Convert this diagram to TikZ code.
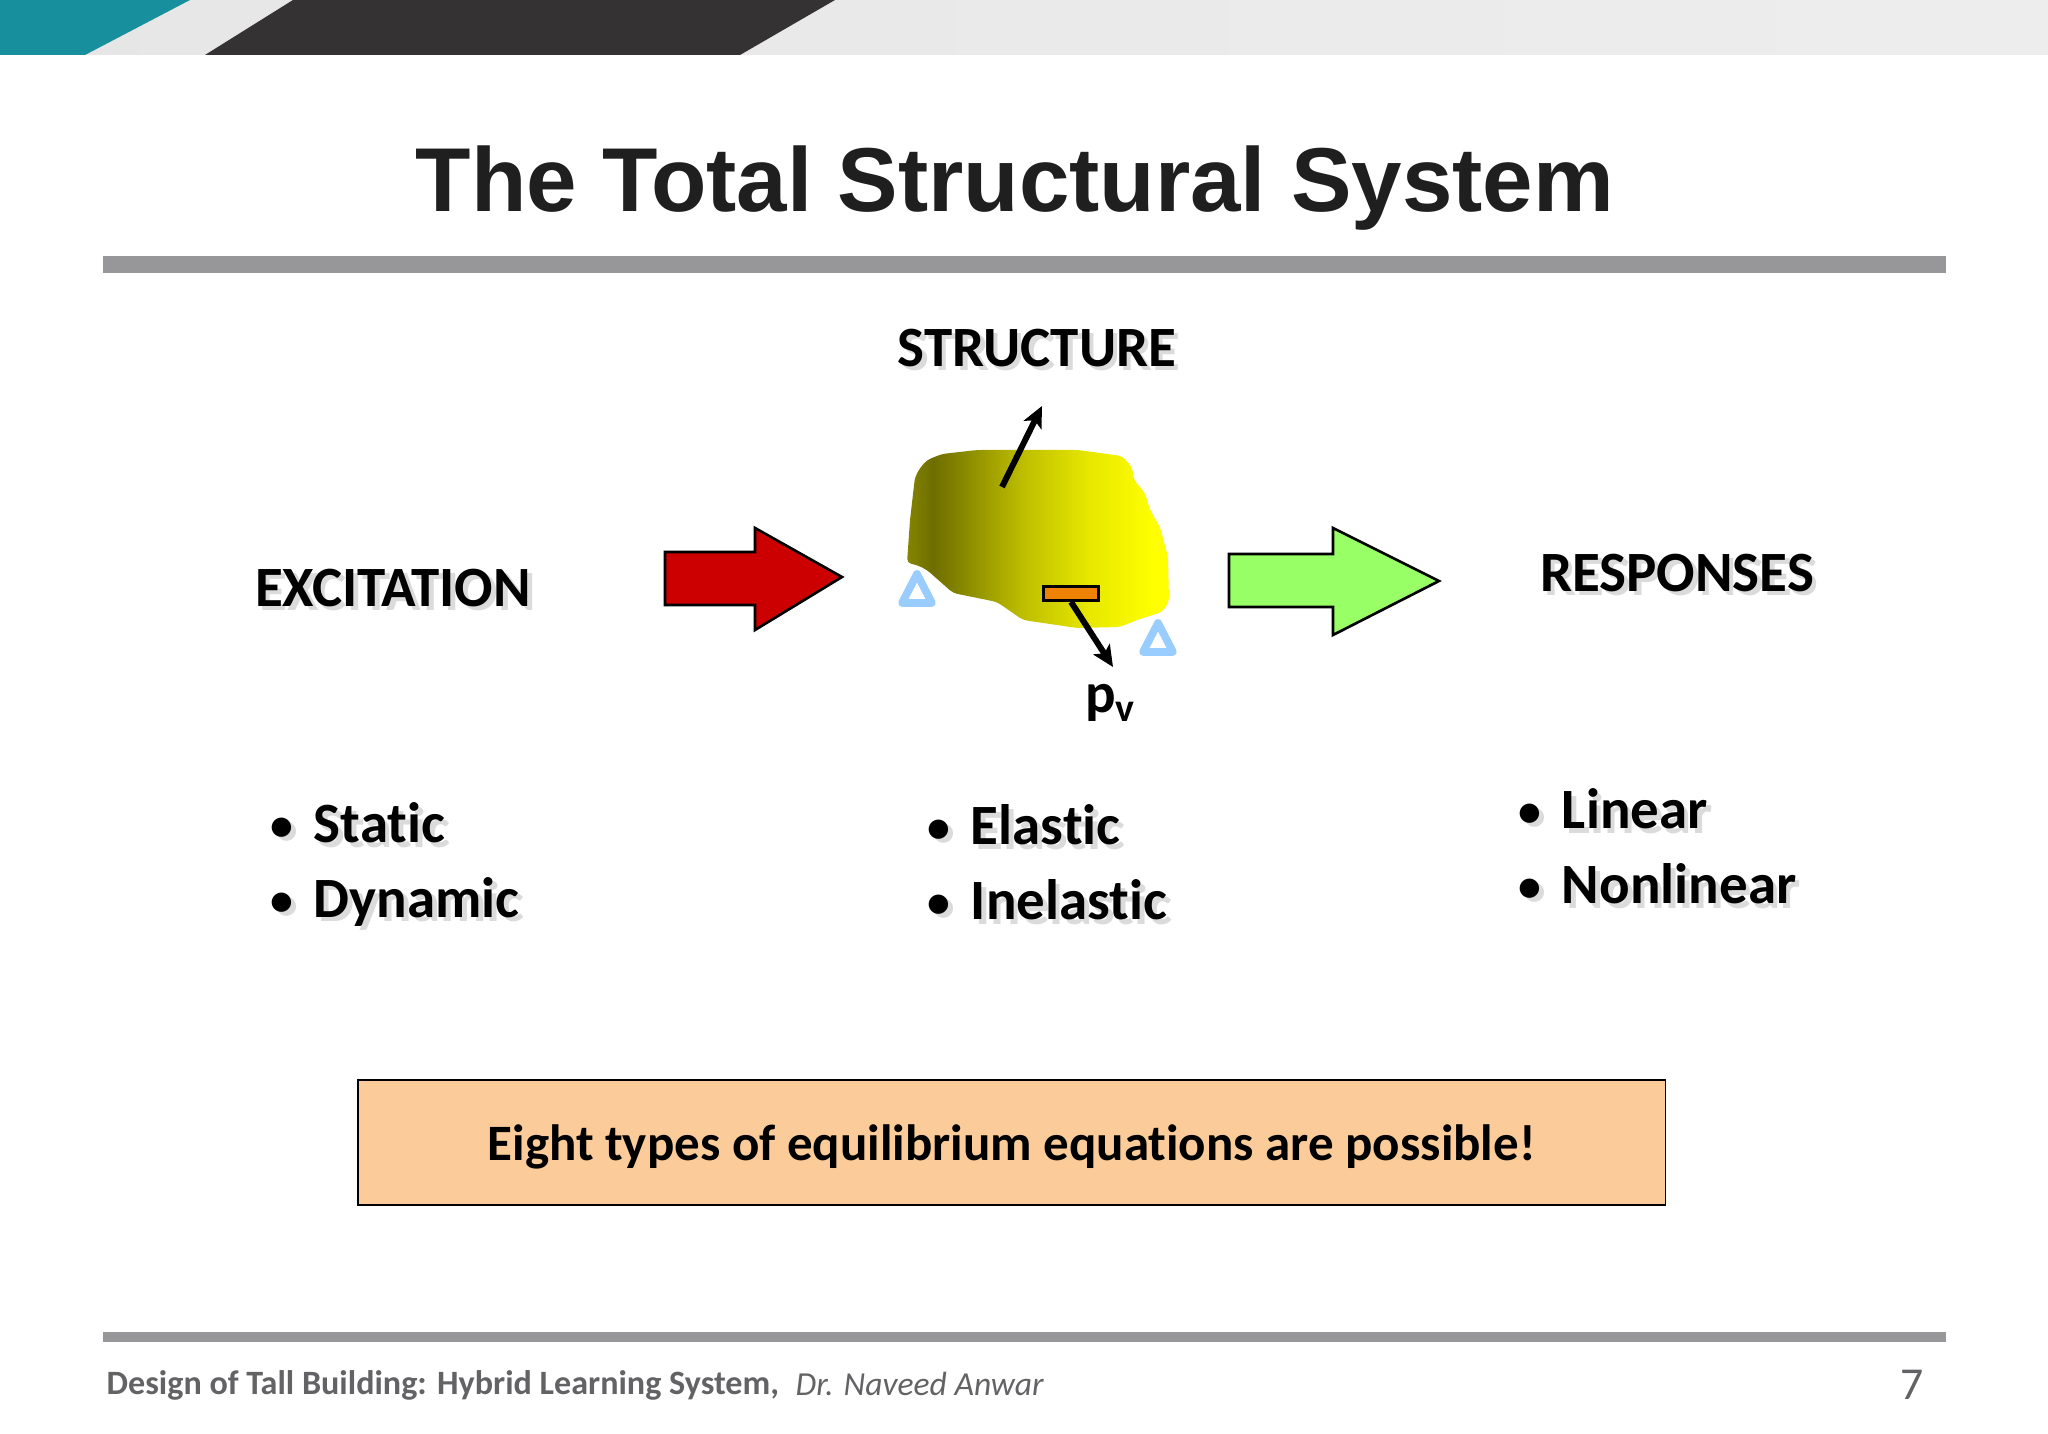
\documentclass[tikz,border=0pt]{standalone}
\usepackage{fontspec}
\setmainfont[Ligatures=NoCommon]{Carlito}
\newfontfamily\titlefont{Liberation Sans}
\usetikzlibrary{arrows.meta}
\definecolor{bandgray}{HTML}{E6E6E6}
\definecolor{bandteal}{HTML}{178F9C}
\definecolor{banddark}{HTML}{343232}
\definecolor{rulegray}{HTML}{979698}
\definecolor{footgray}{HTML}{636265}
\definecolor{supportblue}{HTML}{99CCFF}
\definecolor{boxorange}{HTML}{FBCC99}
\definecolor{plategold}{HTML}{EE8205}
\definecolor{arrowred}{HTML}{CC0000}
\definecolor{arrowgreen}{HTML}{99FF66}
\pgfdeclarehorizontalshading{blobshade}{100bp}{
  rgb(0bp)=(0.52,0.52,0);rgb(25bp)=(0.52,0.52,0);rgb(30bp)=(0.43,0.43,0);
  rgb(47.5bp)=(0.75,0.75,0);rgb(60bp)=(0.91,0.91,0);rgb(72bp)=(1,1,0);rgb(100bp)=(1,1,0)}
\newcommand{\shadowtext}[1]{\rlap{\kern1.3pt\raisebox{-1.3pt}{\color{black!14}#1}}#1}
\newcommand{\bulletitem}[1]{\shadowtext{\makebox[12.3pt][l]{\raisebox{0.6pt}{\fontsize{13}{13}\selectfont\textbullet}}#1}}
\tikzset{
  headtext/.style={font=\fontsize{16.2}{18}\selectfont\bfseries,inner sep=0pt},
  itemtext/.style={font=\fontsize{16.2}{18}\selectfont\bfseries,inner sep=0pt,anchor=west},
  bluesupport/.style={draw=supportblue,line width=2.2pt,line join=round},
  bigarrow/.style={draw=black,line width=0.75pt,line join=miter},
  thinarrow/.style={line width=1.7pt,-{Stealth[length=6pt,width=5.5pt,inset=1.4pt]}}
}
\begin{document}
\begin{tikzpicture}[x=0.01cm,y=-0.01cm]
        \useasboundingbox (0,0) rectangle (2048,1434);
        %fascia in alto
        \shade[left color=bandgray,right color=bandgray!70!white] (0,0) rectangle (2048,55);
        \fill[bandteal] (0,0) -- (190,0) -- (85,55) -- (0,55) -- cycle;
        \fill[banddark] (293,0) -- (835,0) -- (740,55) -- (205,55) -- cycle;
        %titolo e righe
        \node[font=\titlefont\fontsize{25.8}{30}\selectfont\bfseries,text=black!88,inner sep=0pt] (title) at (1015,188) {The Total Structural System};
        \fill[rulegray] (103,256) rectangle (1946,273);
        \fill[rulegray] (103,1332) rectangle (1946,1342);
        %intestazioni
        \node[headtext] (excitation) at (393,590) {\shadowtext{EXCITATION}};
        \node[headtext] (structure) at (1037,350) {\shadowtext{STRUCTURE}};
        \node[headtext] (responses) at (1677,575) {\shadowtext{RESPONSES}};
        %frecce grandi
        \filldraw[bigarrow,fill=arrowred] (665,552) -- (755,552) -- (755,528) -- (842,577) -- (755,630) -- (755,605) -- (665,605) -- cycle;
        \filldraw[bigarrow,fill=arrowgreen] (1229,554) -- (1333,554) -- (1333,528) -- (1439,581) -- (1333,635) -- (1333,607) -- (1229,607) -- cycle;
        %corpo
        \shade[shading=blobshade,rounded corners=1.2pt]
          (907,563) -- (910,520) -- (915,477) -- (920,468) -- (927,460) -- (942,454) -- (977,450) -- (1078,450)
          -- (1122,456) -- (1132,467) -- (1134,480) -- (1145,493) -- (1150,510) -- (1160,527)
          -- (1168,557) -- (1169,602) -- (1162,612) -- (1137,620) -- (1120,627) -- (1077,628)
          -- (1023,620) -- (997,602) -- (953,593) -- (927,570) -- (917,565) -- cycle;
        %appoggi
        \draw[bluesupport] (917,574) -- (902,603) -- (932,603) -- cycle;
        \draw[bluesupport] (1158,623) -- (1143,652) -- (1173,652) -- cycle;
        %piastra e frecce
        \coordinate (upstart) at (1002,487);
        \coordinate (uptip) at (1042,406);
        \coordinate (downtip) at (1113,667);
        \draw[thinarrow] (upstart) -- (uptip);
        \node[draw=black,line width=0.8pt,fill=plategold,minimum width=0.55cm,minimum height=0.14cm,inner sep=0pt] (plate) at (1071,593.5) {};
        \draw[thinarrow] (plate.south) -- (downtip);
        \node[font=\fontsize{16.2}{18}\selectfont\bfseries,inner sep=0pt] (pv) at (1111,703) {p$_{\mathbf{v}}$};
        %elenchi
        \node[itemtext] (static) at (270,825) {\bulletitem{Static}};
        \node[itemtext] (dynamic) at (270,904) {\bulletitem{Dynamic}};
        \node[itemtext] (elastic) at (927,827) {\bulletitem{Elastic}};
        \node[itemtext] (inelastic) at (927,902) {\bulletitem{Inelastic}};
        \node[itemtext] (linear) at (1518,811) {\bulletitem{Linear}};
        \node[itemtext] (nonlinear) at (1518,886) {\bulletitem{Nonlinear}};
        %riquadro
        \node[draw=black,line width=0.5pt,fill=boxorange,minimum width=13.07cm,minimum height=1.25cm,font=\fontsize{14.5}{18}\selectfont\bfseries] (note) at (1011.5,1142.5) {\raisebox{-5pt}[0pt][0pt]{Eight types of equilibrium equations are possible!}};
        %pie di pagina
        \node[anchor=west,inner sep=0pt,text=footgray,font=\fontsize{9.7}{11}\selectfont\bfseries] (footer) at (106,1385) {Design of Tall Building: Hybrid Learning System,};
        \node[anchor=west,inner sep=0pt,text=footgray,font=\fontsize{9.55}{11}\selectfont\itshape] (author) at (795,1384) {Dr. Naveed Anwar};
        \node[inner sep=0pt,text=footgray,font=\fontsize{13}{15}\selectfont] (page) at (1912,1385) {7};
    \end{tikzpicture}
\end{document}
